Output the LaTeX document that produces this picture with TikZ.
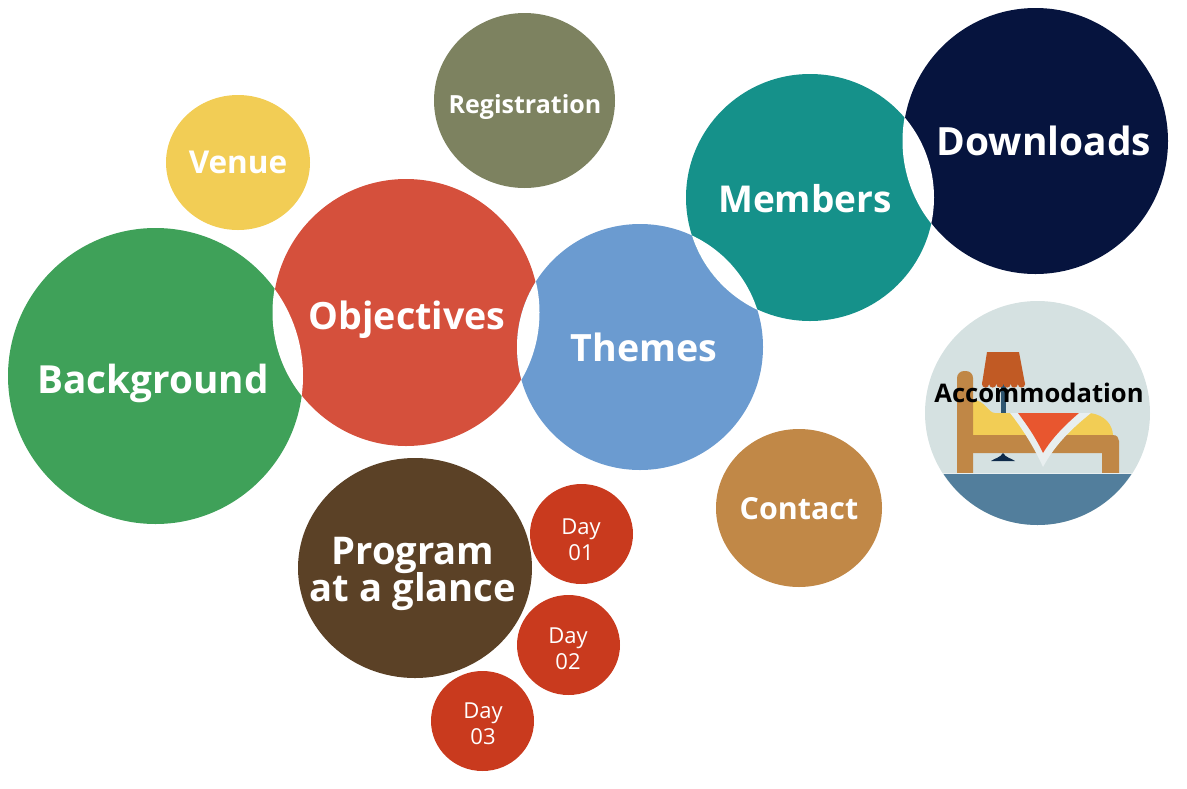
\documentclass[tikz,border=0pt]{standalone}
\usepackage{fontspec}
\setmainfont{Open Sans}
\usetikzlibrary{shapes.geometric,positioning}
\definecolor{colorbackground}{HTML}{3FA159}
\definecolor{colorobjectives}{HTML}{D5503C}
\definecolor{colorthemes}{HTML}{6B9BD0}
\definecolor{colormembers}{HTML}{15918A}
\definecolor{colordownloads}{HTML}{06143E}
\definecolor{colorvenue}{HTML}{F2CD55}
\definecolor{colorregistration}{HTML}{7D8260}
\definecolor{colorcontact}{HTML}{C18847}
\definecolor{colorprogram}{HTML}{5B4126}
\definecolor{colorday}{HTML}{C93A1E}
\definecolor{colorroom}{HTML}{D5E1E1}
\definecolor{colorfloor}{HTML}{527E9C}
\definecolor{colorwood}{HTML}{C08746}
\definecolor{colorlamp}{HTML}{C15A24}
\definecolor{colorsheet}{HTML}{E8EFF0}
\definecolor{colorquilt}{HTML}{E8562F}
\definecolor{colorpole}{HTML}{2D5570}
\definecolor{colorbase}{HTML}{0F2B4A}
\newlength{\BubbleUnit}
\setlength{\BubbleUnit}{1pt}
\newcommand{\BubbleFont}[1]{\fontsize{#1pt}{#1pt}\selectfont\bfseries}
\tikzset{
  bubble/.style={ellipse, draw=none, inner sep=0pt, outer sep=0pt},
  bubble label/.style={text=white, align=center, inner sep=0pt}
}
\begin{document}
\begin{tikzpicture}[x=\BubbleUnit,y=-\BubbleUnit]
    \useasboundingbox (0,0) rectangle (1187,788);
    \foreach \name/\cx/\cy/\rx/\ry/\fillcolor in {
        background/155.5/376/147.5/148/colorbackground,
        objectives/406/312.5/133/133.5/colorobjectives,
        themes/640/347/123/123/colorthemes,
        members/810/197.5/124/123.5/colormembers,
        downloads/1035.5/141/132.5/133/colordownloads,
        venue/238/162.5/72/67.5/colorvenue,
        registration/524.5/100.5/90.5/87.5/colorregistration,
        accommodation/1037.5/413/112.5/112/colorroom,
        contact/799/508/83/79/colorcontact,
        program/415/568/117/110/colorprogram,
        day1/581.5/534/51.5/50/colorday,
        day2/568.5/645/51.5/50/colorday,
        day3/482.5/721/51.5/50/colorday} {
        \node[bubble, fill=\fillcolor, minimum width=2*\rx*\BubbleUnit, minimum height=2*\ry*\BubbleUnit]
            (bubble-\name) at (\cx,\cy) {};
    }
    % where two bubbles overlap the page shows through
    \foreach \first/\firstr/\second/\secondr in {
        background/147.5/objectives/133.5,
        objectives/133.5/themes/123,
        themes/123/members/124,
        members/124/downloads/133} {
        \begin{scope}
            \clip (bubble-\first.center) circle (\firstr pt);
            \fill[white] (bubble-\second.center) circle (\secondr pt);
        \end{scope}
    }
    % bed inside the accommodation bubble
    \begin{scope}
        \clip (bubble-accommodation.center) circle (112pt);
        \fill[colorvenue] (973,400) .. controls (985,400) and (988,413) .. (995,413)
            -- (1090,413) .. controls (1105,415) and (1113,425) .. (1113,436) -- (973,436) -- cycle;
        \fill[colorwood, rounded corners=7pt] (957,490) -- (957,371) -- (973,371) -- (973,490) -- cycle;
        \fill[colorwood] (973,435) -- (1113,435) .. controls (1117,435) and (1119,438) .. (1119,441)
            -- (1119,473) -- (1102,473) -- (1102,453) -- (973,453) -- cycle;
        \fill[colorpole] (1001,384) rectangle (1006,413);
        \fill[colorlamp] (987,352) -- (1019,352) -- (1025,384) -- (982,384) -- cycle;
        \foreach \scallopx in {985.5,992.7,999.9,1007.1,1014.3,1021.5} {
            \fill[colorlamp] (\scallopx,384) circle (3.6pt);
        }
        \fill[colorbase] (991,461) .. controls (995,458) and (1000,458) .. (1003,453)
            .. controls (1006,458) and (1011,458) .. (1015,461) -- cycle;
        \fill[colorsheet] (1010,413) -- (1091,413) .. controls (1070,430) and (1055,445) .. (1043,467)
            .. controls (1034,447) and (1022,428) .. (1010,413) -- cycle;
        \fill[colorquilt] (1018,413) -- (1079,413) .. controls (1065,425) and (1052,438) .. (1043,453)
            .. controls (1036,438) and (1027,425) .. (1018,413) -- cycle;
        \fill[colorsheet] (925,472.5) rectangle (1150,474);
        \fill[colorfloor] (925,473.5) rectangle (1150,526);
    \end{scope}
    \node[bubble label, font=\BubbleFont{38.7}] (label-background) at (153,383) {Background};
    \node[bubble label, font=\BubbleFont{37.6}] (label-objectives) at (407,320) {Objectives};
    \node[bubble label, font=\BubbleFont{37.6}] (label-themes) at (644,347) {Themes};
    \node[bubble label, font=\BubbleFont{37}] (label-members) at (805,199) {Members};
    \node[bubble label, font=\BubbleFont{38.9}] (label-downloads) at (1044,141) {Downloads};
    \node[bubble label, font=\BubbleFont{31.5}] (label-venue) at (238,162) {Venue};
    \node[bubble label, font=\BubbleFont{25}] (label-registration) at (525,107) {Registration};
    \node[bubble label, font=\BubbleFont{30.4}] (label-contact) at (799,509) {Contact};
    \node[bubble label, text=black, font=\BubbleFont{25.6}] (label-accommodation) at (1039,393) {Accommodation};
    \node[bubble label, font=\BubbleFont{38.2}] (label-program) at (413,574) {Program\\[-2pt]at a glance};
    \node[bubble label, font=\fontsize{22pt}{26pt}\selectfont] (label-day1) at (581,540) {Day\\01};
    \node[bubble label, font=\fontsize{22pt}{26pt}\selectfont] (label-day2) at (568,649) {Day\\02};
    \node[bubble label, font=\fontsize{22pt}{26pt}\selectfont] (label-day3) at (483,724) {Day\\03};
\end{tikzpicture}
\end{document}
